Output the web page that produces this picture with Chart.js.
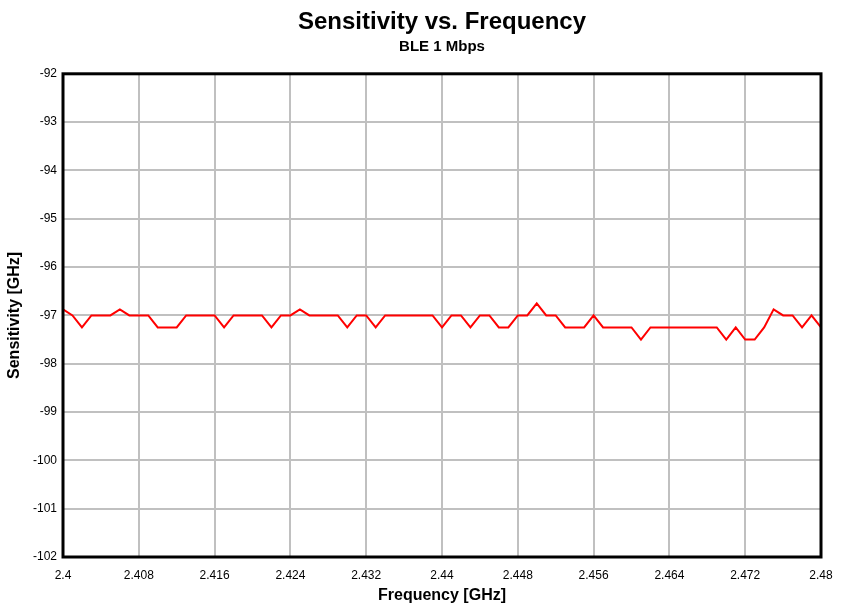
<!DOCTYPE html>
<html>
<head>
<meta charset="utf-8">
<script src="https://cdn.jsdelivr.net/npm/chart.js@4/dist/chart.umd.min.js"></script>
<style>
  html, body { margin: 0; padding: 0; background: #ffffff; }
  #wrap { width: 850px; height: 611px; }
</style>
</head>
<body>
<div id="wrap"><canvas id="c" width="850" height="611"></canvas></div>
<script>
// ---- data ----
const titleText = "Sensitivity vs. Frequency";
const subtitleText = "BLE 1 Mbps";
const xAxisTitle = "Frequency [GHz]";
const yAxisTitle = "Sensitivity [GHz]";

const frequencies = [
  2.400, 2.401, 2.402, 2.403, 2.404, 2.405, 2.406, 2.407, 2.408, 2.409,
  2.410, 2.411, 2.412, 2.413, 2.414, 2.415, 2.416, 2.417, 2.418, 2.419,
  2.420, 2.421, 2.422, 2.423, 2.424, 2.425, 2.426, 2.427, 2.428, 2.429,
  2.430, 2.431, 2.432, 2.433, 2.434, 2.435, 2.436, 2.437, 2.438, 2.439,
  2.440, 2.441, 2.442, 2.443, 2.444, 2.445, 2.446, 2.447, 2.448, 2.449,
  2.450, 2.451, 2.452, 2.453, 2.454, 2.455, 2.456, 2.457, 2.458, 2.459,
  2.460, 2.461, 2.462, 2.463, 2.464, 2.465, 2.466, 2.467, 2.468, 2.469,
  2.470, 2.471, 2.472, 2.473, 2.474, 2.475, 2.476, 2.477, 2.478, 2.479,
  2.480
];
const sensitivity = [
  -96.875, -97, -97.25, -97, -97, -97, -96.875, -97, -97, -97,
  -97.25, -97.25, -97.25, -97, -97, -97, -97, -97.25, -97, -97,
  -97, -97, -97.25, -97, -97, -96.875, -97, -97, -97, -97,
  -97.25, -97, -97, -97.25, -97, -97, -97, -97, -97, -97,
  -97.25, -97, -97, -97.25, -97, -97, -97.25, -97.25, -97, -97,
  -96.75, -97, -97, -97.25, -97.25, -97.25, -97, -97.25, -97.25, -97.25,
  -97.25, -97.5, -97.25, -97.25, -97.25, -97.25, -97.25, -97.25, -97.25, -97.25,
  -97.5, -97.25, -97.5, -97.5, -97.25, -96.875, -97, -97, -97.25, -97,
  -97.25
];
const xTicks = [2.4, 2.408, 2.416, 2.424, 2.432, 2.44, 2.448, 2.456, 2.464, 2.472, 2.48];
const xTickLabels = ["2.4", "2.408", "2.416", "2.424", "2.432", "2.44", "2.448", "2.456", "2.464", "2.472", "2.48"];
const yTicks = [-92, -93, -94, -95, -96, -97, -98, -99, -100, -101, -102];
const yTickLabels = ["-92", "-93", "-94", "-95", "-96", "-97", "-98", "-99", "-100", "-101", "-102"];

// ---- chart ----
const FONT = "'Liberation Sans', Arial, sans-serif";
const points = frequencies.map((f, i) => ({ x: f, y: sensitivity[i] }));

const framePlugin = {
  id: 'frame',
  afterLayout(chart) {
    // center title and subtitle over the plot area
    const a = chart.chartArea;
    chart.boxes.forEach(b => {
      if (b.options && (b.options.text === titleText || b.options.text === subtitleText)) {
        b.left = a.left;
        b.right = a.right;
        b.width = a.right - a.left;
      }
    });
  },
  afterDraw(chart) {
    const a = chart.chartArea, ctx = chart.ctx;
    ctx.save();
    ctx.strokeStyle = '#000000';
    ctx.lineWidth = 3;
    ctx.strokeRect(a.left, a.top, a.right - a.left, a.bottom - a.top);
    ctx.restore();
  }
};

new Chart(document.getElementById('c'), {
  type: 'line',
  data: {
    datasets: [{
      data: points,
      borderColor: '#ff0000',
      borderWidth: 2,
      pointRadius: 0,
      tension: 0,
      fill: false
    }]
  },
  options: {
    responsive: false,
    animation: false,
    layout: { padding: { left: 0, right: 29, top: 0, bottom: 0 } },
    plugins: {
      legend: { display: false },
      tooltip: { enabled: false },
      title: {
        display: true, text: titleText, color: '#000000',
        font: { family: FONT, size: 24, weight: 'bold', lineHeight: 1.2 },
        padding: { top: 8, bottom: 1 }
      },
      subtitle: {
        display: true, text: subtitleText, color: '#000000',
        font: { family: FONT, size: 15, weight: 'bold', lineHeight: 1.2 },
        padding: { top: 0, bottom: 18 }
      }
    },
    scales: {
      x: {
        type: 'linear',
        min: 2.4, max: 2.48,
        afterBuildTicks(axis) { axis.ticks = xTicks.map(v => ({ value: v })); },
        afterFit(axis) { axis.height = 54; },
        ticks: {
          color: '#000000',
          font: { family: FONT, size: 12 },
          padding: 11,
          maxRotation: 0,
          autoSkip: false,
          callback: (v) => { const i = xTicks.findIndex(t => Math.abs(t - v) < 1e-9); return i >= 0 ? xTickLabels[i] : ''; }
        },
        grid: { color: '#c0c0c0', lineWidth: 2, drawTicks: false },
        border: { display: false },
        title: {
          display: true, text: xAxisTitle, color: '#000000',
          font: { family: FONT, size: 16, weight: 'bold', lineHeight: 1.2 },
          padding: { top: 0, bottom: 6 }
        }
      },
      y: {
        type: 'linear',
        min: -102, max: -92,
        afterBuildTicks(axis) { axis.ticks = yTicks.map(v => ({ value: v })); },
        afterFit(axis) { axis.width = 63; },
        ticks: {
          color: '#000000',
          font: { family: FONT, size: 12 },
          padding: 6,
          autoSkip: false,
          callback: (v) => { const i = yTicks.findIndex(t => Math.abs(t - v) < 1e-9); return i >= 0 ? yTickLabels[i] : ''; }
        },
        grid: { color: '#c0c0c0', lineWidth: 2, drawTicks: false },
        border: { display: false },
        title: {
          display: true, text: yAxisTitle, color: '#000000',
          font: { family: FONT, size: 16, weight: 'bold', lineHeight: 1.2 },
          padding: { top: 5, bottom: 0 }
        }
      }
    }
  },
  plugins: [framePlugin]
});
</script>
</body>
</html>
